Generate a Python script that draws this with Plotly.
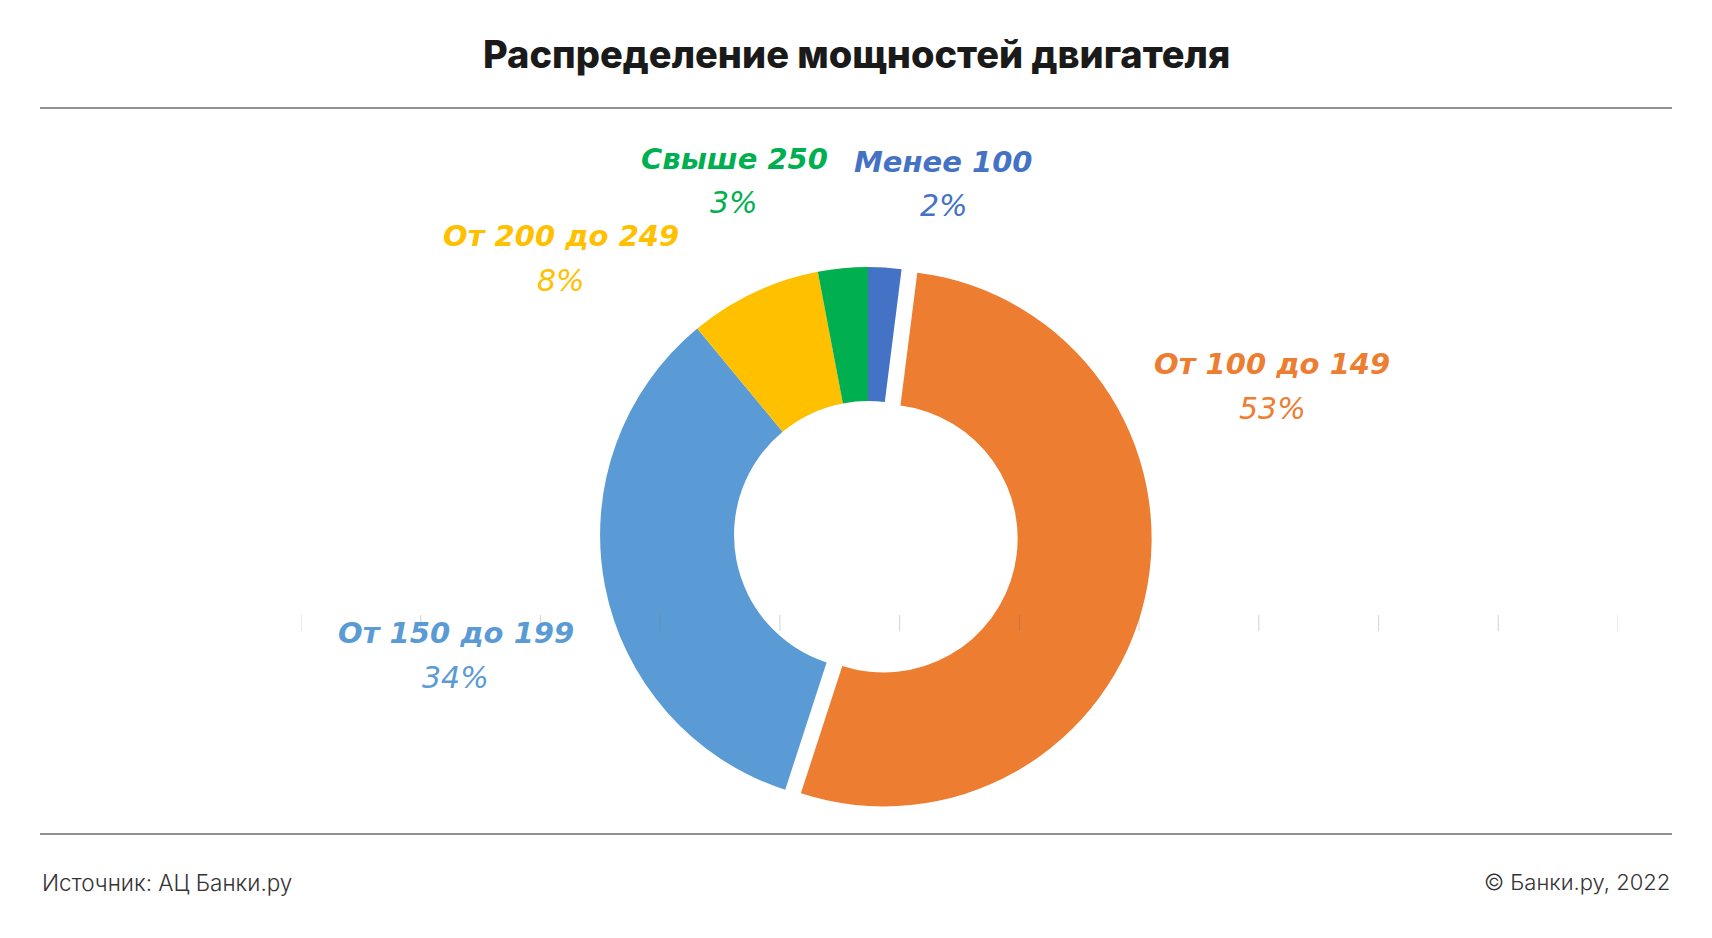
import plotly.graph_objects as go

# ---- data ----
categories = ["Менее 100", "От 100 до 149", "От 150 до 199", "От 200 до 249", "Свыше 250"]
shares = [2, 53, 34, 8, 3]
colors = ["#4472C4", "#ED7D31", "#5B9BD5", "#FFC000", "#00B050"]
pulls = [0, 0.06, 0, 0, 0]
title_text = "Распределение мощностей двигателя"
source_text = "Источник: АЦ Банки.ру"
copyright_text = "© Банки.ру, 2022"
tick_positions = list(range(12))

# label anchor positions (px in 1712x938 canvas)
label_xy = [(944, 162), (1272, 364), (456, 633), (561, 236), (734, 159)]
pct_dy = 44

W, H = 1712, 938

fig = go.Figure()

fig.add_trace(go.Scatter(x=[tick_positions[0], tick_positions[-1]], y=[0, 0], mode="markers",
                         marker=dict(opacity=0), hoverinfo="skip", showlegend=False))

fig.add_trace(go.Pie(
    labels=categories, values=shares, sort=False, direction="clockwise", rotation=0,
    hole=0.5, pull=pulls, marker=dict(colors=colors, line=dict(width=0)),
    textinfo="none", hoverinfo="label+percent", showlegend=False,
    domain=dict(x=[584 / W, 1152 / W], y=[1 - 819 / H, 1 - 251 / H]),
))

ann = []
for (x, y), cat, val, col in zip(label_xy, categories, shares, colors):
    ann.append(dict(x=x / W, y=1 - y / H, xref="paper", yref="paper", text=cat,
                    showarrow=False, xanchor="center", yanchor="middle",
                    font=dict(family="DejaVu Sans", size=29, color=col, weight=700, style="italic")))
    ann.append(dict(x=x / W, y=1 - (y + pct_dy) / H, xref="paper", yref="paper", text=f"{val}%",
                    showarrow=False, xanchor="center", yanchor="middle",
                    font=dict(family="DejaVu Sans", size=30, color=col, weight=200, style="italic")))

ann.append(dict(x=0.5, y=1 - 54 / H, xref="paper", yref="paper", text=title_text, showarrow=False,
                xanchor="center", yanchor="middle",
                font=dict(family="Inter", size=38, color="#1a1a1a", weight=800)))
ann.append(dict(x=40 / W, y=1 - 882 / H, xref="paper", yref="paper", text=source_text, showarrow=False,
                xanchor="left", yanchor="middle",
                font=dict(family="Inter", size=22.5, color="#333333", weight=300)))
ann.append(dict(x=1672 / W, y=1 - 882 / H, xref="paper", yref="paper", text=copyright_text, showarrow=False,
                xanchor="right", yanchor="middle",
                font=dict(family="Inter", size=22, color="#333333", weight=300)))

shapes = [
    dict(type="line", xref="paper", yref="paper", x0=40 / W, x1=1672 / W, y0=1 - 108 / H, y1=1 - 108 / H,
         line=dict(color="#222222", width=1)),
    dict(type="line", xref="paper", yref="paper", x0=40 / W, x1=1672 / W, y0=1 - 834 / H, y1=1 - 834 / H,
         line=dict(color="#222222", width=1)),
]
# faint category-axis tick marks drawn over the donut
for t in tick_positions:
    shapes.append(dict(type="line", xref="x", yref="paper", x0=t, x1=t,
                       y0=1 - 615 / H, y1=1 - 631 / H, layer="above",
                       line=dict(color="rgba(110,110,110,0.3)", width=1)))

fig.update_layout(
    width=W, height=H, margin=dict(l=0, r=0, t=0, b=0),
    paper_bgcolor="white", plot_bgcolor="rgba(0,0,0,0)",
    annotations=ann, shapes=shapes,
    xaxis=dict(domain=[301 / W, 1618 / W], range=[tick_positions[0], tick_positions[-1]],
               visible=False, fixedrange=True),
    yaxis=dict(domain=[1 - 615 / H, 1 - 560 / H], visible=False, fixedrange=True),
)

fig.write_html("out.html", config={"displayModeBar": False})
